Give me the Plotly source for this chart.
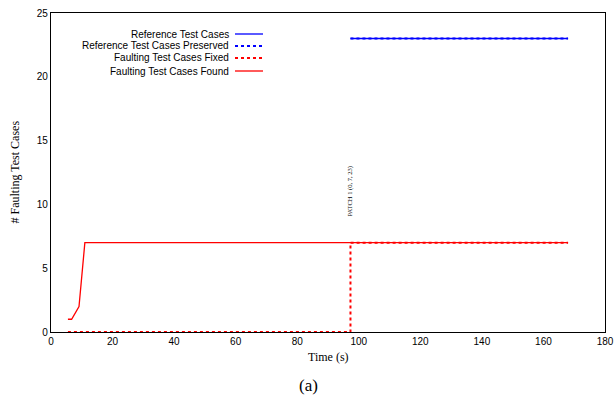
import plotly.graph_objects as go

# Data
found_x = [5.5, 6.7, 9.1, 11, 168]
found_y = [1, 1, 2, 7, 7]
fixed_x = [5.5, 97.3, 97.3, 168]
fixed_y = [0, 0, 7, 7]
ref_x = [97.3, 168]
ref_y = [23, 23]
pres_x = [97.3, 168]
pres_y = [23, 23]
legend_names = ["Reference Test Cases", "Reference Test Cases Preserved",
                "Faulting Test Cases Fixed", "Faulting Test Cases Found"]
legend_colors = ["#0000ff", "#0000ff", "#ff0000", "#ff0000"]
legend_dash = ["solid", "dot", "dot", "solid"]
x_ticks = [0, 20, 40, 60, 80, 100, 120, 140, 160, 180]
y_ticks = [0, 5, 10, 15, 20, 25]

fig = go.Figure()
fig.add_trace(go.Scatter(x=found_x, y=found_y, mode="lines",
                         line=dict(color="#ff0000", width=1.3), showlegend=False))
fig.add_trace(go.Scatter(x=ref_x, y=ref_y, mode="lines",
                         line=dict(color="#0000ff", width=1.3), showlegend=False))
fig.add_trace(go.Scatter(x=pres_x, y=pres_y, mode="lines",
                         line=dict(color="#0000ff", width=2, dash="dot"), showlegend=False))
fig.add_trace(go.Scatter(x=fixed_x, y=fixed_y, mode="lines",
                         line=dict(color="#ff0000", width=2, dash="dot"), showlegend=False))

PH = 319.0
PW = 554.0
annotations = []
shapes = []
# custom legend (text left of sample line)
row_y = [34, 46, 58, 71]
for name, c, d, ry in zip(legend_names, legend_colors, legend_dash, row_y):
    yp = 1 - (ry - 13) / PH
    annotations.append(dict(x=(231 - 51) / PW, y=yp, xref="paper", yref="paper",
                            text=name, showarrow=False, xanchor="right", yanchor="middle",
                            font=dict(family="Liberation Sans, Arial", size=10, color="black")))
    shapes.append(dict(type="line", xref="paper", yref="paper",
                       x0=(235 - 51) / PW, x1=(263 - 51) / PW, y0=yp, y1=yp,
                       line=dict(color=c, width=1.3 if d == "solid" else 2, dash=d)))

annotations.append(dict(x=97.3, y=11.05, xref="x", yref="y", text="PATCH 1 (0, 7, 23)",
                        showarrow=False, textangle=-90, xanchor="center", yanchor="middle",
                        font=dict(family="Liberation Serif, Times New Roman", size=6.5, color="black")))
annotations.append(dict(x=0.5, y=-(357 - 332) / PH, xref="paper", yref="paper", text="Time (s)",
                        showarrow=False, xanchor="center", yanchor="middle",
                        font=dict(family="Liberation Serif, Times New Roman", size=12, color="black")))
annotations.append(dict(x=(14 - 51) / PW, y=0.5, xref="paper", yref="paper", text="# Faulting Test Cases",
                        showarrow=False, textangle=-90, xanchor="center", yanchor="middle",
                        font=dict(family="Liberation Serif, Times New Roman", size=12, color="black")))
annotations.append(dict(x=(308 - 51) / PW, y=-(385 - 332) / PH, xref="paper", yref="paper", text="(a)",
                        showarrow=False, xanchor="center", yanchor="middle",
                        font=dict(family="Liberation Serif, Times New Roman", size=17, color="black")))

fig.update_layout(
    width=616, height=408,
    margin=dict(l=51, r=11, t=13, b=76),
    plot_bgcolor="white", paper_bgcolor="white",
    annotations=annotations, shapes=shapes,
    showlegend=False,
)
fig.update_xaxes(range=[0, 180], tickvals=x_ticks, showgrid=False, zeroline=False,
                 showline=True, linecolor="black", linewidth=1.2, mirror=True,
                 ticks="", ticklabeloverflow="allow", automargin=False,
                 tickfont=dict(family="Liberation Sans, Arial", size=10, color="black"))
fig.update_yaxes(range=[0, 25], tickvals=y_ticks, showgrid=False, zeroline=False,
                 showline=True, linecolor="black", linewidth=1.2, mirror=True,
                 ticks="", ticklabeloverflow="allow", automargin=False,
                 tickfont=dict(family="Liberation Sans, Arial", size=10, color="black"))

fig.write_html("out.html", config={"displayModeBar": False},
               post_script="document.body.style.margin='0';document.body.style.overflow='hidden';")
